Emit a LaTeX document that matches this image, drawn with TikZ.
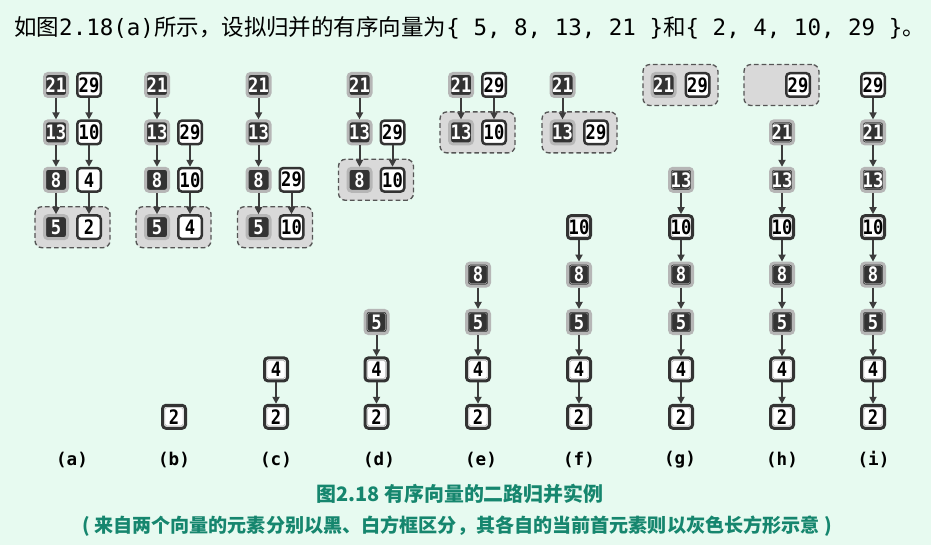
\documentclass[tikz,border=0pt]{standalone}
\usepackage{fontspec}
\usetikzlibrary{arrows.meta}

\newfontfamily\cjk{Noto Sans CJK SC}
\newfontfamily\mono{DejaVu Sans Mono}
\newfontfamily\boxfont{DejaVu Sans Mono}[FakeStretch=0.86]

\definecolor{mint}{RGB}{231,250,240}
\definecolor{inkdark}{RGB}{51,51,51}
\definecolor{halo}{RGB}{182,182,182}
\definecolor{arrowgray}{RGB}{60,60,60}
\definecolor{grpfill}{RGB}{217,217,217}
\definecolor{grpline}{RGB}{85,85,85}
\definecolor{teal}{RGB}{22,134,110}

\tikzset{
  darkbox/.style={draw=halo, fill=inkdark, text=white, line width=0.09cm,
    rounded corners=3pt, minimum size=0.69cm, inner sep=0pt,
    font=\boxfont\bfseries\fontsize{17}{17}\selectfont},
  whitebox/.style={draw=inkdark, fill=white, text=black, line width=0.075cm,
    rounded corners=3pt, minimum size=0.705cm, inner sep=0pt,
    font=\boxfont\bfseries\fontsize{17}{17}\selectfont},
  inline/.style={path picture={\draw[line width=0.5pt, draw=#1, rounded corners=1.5pt]
    ([xshift=2pt,yshift=-2pt]path picture bounding box.north west) rectangle
    ([xshift=-2pt,yshift=2pt]path picture bounding box.south east);}},
  darkout/.style={darkbox, inline=gray!75},
  whiteout/.style={whitebox, line width=0.09cm, minimum size=0.69cm, inline=gray!60},
  grp/.style={draw=grpline, fill=grpfill, line width=0.04cm, dash pattern=on 4pt off 2.5pt,
    rounded corners=6pt, minimum width=2.25cm, minimum height=1.23cm, inner sep=0pt},
  arr/.style={draw=arrowgray, line width=0.06cm, -{Triangle[length=6pt,width=6pt]}},
  steplabel/.style={font=\mono\bfseries\fontsize{15}{15}\selectfont}
}

\begin{document}
\begin{tikzpicture}[x=0.03cm, y=-0.03cm]

% Background and page size
\fill[mint] (0,0) rectangle (931,545);
\useasboundingbox (0,0) rectangle (931,545);

% Heading
\node[anchor=west, inner sep=0pt, font=\fontsize{19.2}{19.2}\selectfont] (intro) at (14,28)
  {{\cjk 如图}{\mono 2.18(a)}{\cjk 所示，设拟归并的有序向量为}{\mono\{ 5, 8, 13, 21 \}}{\cjk 和}{\mono\{ 2, 4, 10, 29 \}}{\cjk 。}};

% Current heads (gray dashed frames)
\node[grp] (ga) at (72.5,227.2) {};
\node[grp] (gb) at (173.5,227.2) {};
\node[grp] (gc) at (275,227.2) {};
\node[grp] (gd) at (376,179.8) {};
\node[grp] (ge) at (477.5,132.4) {};
\node[grp] (gf) at (579.5,132.4) {};
\node[grp] (gg) at (680.5,85) {};
\node[grp] (gh) at (781.5,85) {};

% (a)
\node[darkbox] (a21) at (56,85) {21};
\node[darkbox] (a13) at (56,132.4) {13};
\node[darkbox] (a8) at (56,179.8) {8};
\node[darkbox] (a5) at (56,227.2) {5};
\node[whitebox] (a29) at (89,85) {29};
\node[whitebox] (a10) at (89,132.4) {10};
\node[whitebox] (a4) at (89,179.8) {4};
\node[whitebox] (a2) at (89,227.2) {2};
\draw[arr] (a21) -- (a13);
\draw[arr] (a13) -- (a8);
\draw[arr] (a8) -- (a5);
\draw[arr] (a29) -- (a10);
\draw[arr] (a10) -- (a4);
\draw[arr] (a4) -- (a2);

% (b)
\node[darkbox] (b21) at (157,85) {21};
\node[darkbox] (b13) at (157,132.4) {13};
\node[darkbox] (b8) at (157,179.8) {8};
\node[darkbox] (b5) at (157,227.2) {5};
\node[whitebox] (b29) at (190,132.4) {29};
\node[whitebox] (b10) at (190,179.8) {10};
\node[whitebox] (b4) at (190,227.2) {4};
\node[whiteout] (bo2) at (174,416.8) {2};
\draw[arr] (b21) -- (b13);
\draw[arr] (b13) -- (b8);
\draw[arr] (b8) -- (b5);
\draw[arr] (b29) -- (b10);
\draw[arr] (b10) -- (b4);

% (c)
\node[darkbox] (c21) at (258.5,85) {21};
\node[darkbox] (c13) at (258.5,132.4) {13};
\node[darkbox] (c8) at (258.5,179.8) {8};
\node[darkbox] (c5) at (258.5,227.2) {5};
\node[whitebox] (c29) at (291.5,179.8) {29};
\node[whitebox] (c10) at (291.5,227.2) {10};
\node[whiteout] (co4) at (276,369.4) {4};
\node[whiteout] (co2) at (276,416.8) {2};
\draw[arr] (c21) -- (c13);
\draw[arr] (c13) -- (c8);
\draw[arr] (c8) -- (c5);
\draw[arr] (c29) -- (c10);
\draw[arr] (co4) -- (co2);

% (d)
\node[darkbox] (d21) at (359.5,85) {21};
\node[darkbox] (d13) at (359.5,132.4) {13};
\node[darkbox] (d8) at (359.5,179.8) {8};
\node[whitebox] (d29) at (392.5,132.4) {29};
\node[whitebox] (d10) at (392.5,179.8) {10};
\node[darkout] (do5) at (376.5,322) {5};
\node[whiteout] (do4) at (376.5,369.4) {4};
\node[whiteout] (do2) at (376.5,416.8) {2};
\draw[arr] (d21) -- (d13);
\draw[arr] (d13) -- (d8);
\draw[arr] (d29) -- (d10);
\draw[arr] (do5) -- (do4);
\draw[arr] (do4) -- (do2);

% (e)
\node[darkbox] (e21) at (461,85) {21};
\node[darkbox] (e13) at (461,132.4) {13};
\node[whitebox] (e29) at (494,85) {29};
\node[whitebox] (e10) at (494,132.4) {10};
\node[darkout] (eo8) at (478,274.6) {8};
\node[darkout] (eo5) at (478,322) {5};
\node[whiteout] (eo4) at (478,369.4) {4};
\node[whiteout] (eo2) at (478,416.8) {2};
\draw[arr] (e21) -- (e13);
\draw[arr] (e29) -- (e10);
\draw[arr] (eo8) -- (eo5);
\draw[arr] (eo5) -- (eo4);
\draw[arr] (eo4) -- (eo2);

% (f)
\node[darkbox] (f21) at (562.5,85) {21};
\node[darkbox] (f13) at (562.5,132.4) {13};
\node[whitebox] (f29) at (596,132.4) {29};
\node[whiteout] (fo10) at (579,227.2) {10};
\node[darkout] (fo8) at (579,274.6) {8};
\node[darkout] (fo5) at (579,322) {5};
\node[whiteout] (fo4) at (579,369.4) {4};
\node[whiteout] (fo2) at (579,416.8) {2};
\draw[arr] (f21) -- (f13);
\draw[arr] (fo10) -- (fo8);
\draw[arr] (fo8) -- (fo5);
\draw[arr] (fo5) -- (fo4);
\draw[arr] (fo4) -- (fo2);

% (g)
\node[darkbox] (g21) at (663.5,85) {21};
\node[whitebox] (g29) at (697.5,85) {29};
\node[darkout] (go13) at (681,179.8) {13};
\node[whiteout] (go10) at (681,227.2) {10};
\node[darkout] (go8) at (681,274.6) {8};
\node[darkout] (go5) at (681,322) {5};
\node[whiteout] (go4) at (681,369.4) {4};
\node[whiteout] (go2) at (681,416.8) {2};
\draw[arr] (go13) -- (go10);
\draw[arr] (go10) -- (go8);
\draw[arr] (go8) -- (go5);
\draw[arr] (go5) -- (go4);
\draw[arr] (go4) -- (go2);

% (h)
\node[whitebox] (h29) at (798,85) {29};
\node[darkout] (ho21) at (782,132.4) {21};
\node[darkout] (ho13) at (782,179.8) {13};
\node[whiteout] (ho10) at (782,227.2) {10};
\node[darkout] (ho8) at (782,274.6) {8};
\node[darkout] (ho5) at (782,322) {5};
\node[whiteout] (ho4) at (782,369.4) {4};
\node[whiteout] (ho2) at (782,416.8) {2};
\draw[arr] (ho21) -- (ho13);
\draw[arr] (ho13) -- (ho10);
\draw[arr] (ho10) -- (ho8);
\draw[arr] (ho8) -- (ho5);
\draw[arr] (ho5) -- (ho4);
\draw[arr] (ho4) -- (ho2);

% (i)
\node[whitebox] (io29) at (873,85) {29};
\node[darkout] (io21) at (873,132.4) {21};
\node[darkout] (io13) at (873,179.8) {13};
\node[whiteout] (io10) at (873,227.2) {10};
\node[darkout] (io8) at (873,274.6) {8};
\node[darkout] (io5) at (873,322) {5};
\node[whiteout] (io4) at (873,369.4) {4};
\node[whiteout] (io2) at (873,416.8) {2};
\draw[arr] (io29) -- (io21);
\draw[arr] (io21) -- (io13);
\draw[arr] (io13) -- (io10);
\draw[arr] (io10) -- (io8);
\draw[arr] (io8) -- (io5);
\draw[arr] (io5) -- (io4);
\draw[arr] (io4) -- (io2);

% Step labels
\node[steplabel] (la) at (72,460) {(a)};
\node[steplabel] (lb) at (174,460) {(b)};
\node[steplabel] (lc) at (276,460) {(c)};
\node[steplabel] (ld) at (379,460) {(d)};
\node[steplabel] (le) at (481,460) {(e)};
\node[steplabel] (lf) at (579,460) {(f)};
\node[steplabel] (lg) at (680,460) {(g)};
\node[steplabel] (lh) at (782,460) {(h)};
\node[steplabel] (li) at (873.5,460) {(i)};

% Caption
\node[text=teal, font=\cjk\bfseries\fontsize{17}{17}\selectfont] (cap) at (460,494)
  {图2.18 有序向量的二路归并实例};
\node[text=teal, font=\cjk\bfseries\fontsize{16.3}{16.3}\selectfont] (note) at (457,526)
  {( 来自两个向量的元素分别以黑、白方框区分，其各自的当前首元素则以灰色长方形示意 )};

\end{tikzpicture}
\end{document}
